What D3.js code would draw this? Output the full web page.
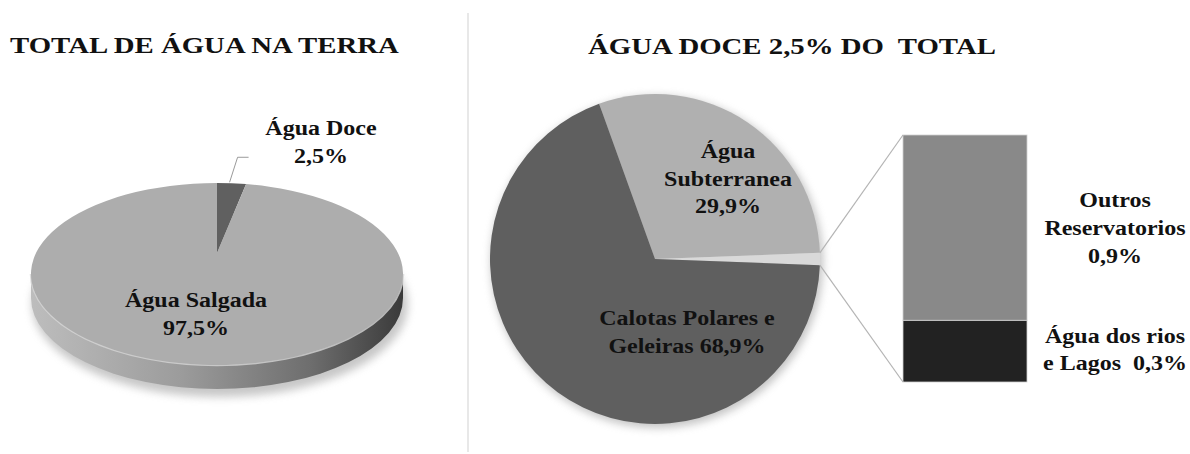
<!DOCTYPE html>
<html>
<head>
<meta charset="utf-8">
<script src="https://cdn.jsdelivr.net/npm/d3@7"></script>
<style>
body{margin:0;background:#fff;}
</style>
</head>
<body>
<div id="svg-container"></div>
<script>
// dados
var totalCats = ["Água Doce", "Água Salgada"];
var totalVals = [2.5, 97.5];
var doceCats = ["Água Subterranea", "Outros", "Calotas Polares e Geleiras"];
var barCats = ["Água dos rios e Lagos", "Outros Reservatorios"];
var barVals = [0.3, 0.9];
var doceVals = [29.9, d3.sum(barVals), 68.9];

var FONT = "Liberation Serif, Times New Roman, DejaVu Serif, serif";

var svg = d3.select("#svg-container").append("svg").attr("width", 1190).attr("height", 454);
var defs = svg.append("defs");
defs.append("filter").attr("id", "blur").attr("x", "-20%").attr("y", "-20%").attr("width", "140%").attr("height", "140%")
  .append("feGaussianBlur").attr("stdDeviation", 4);
var grad = defs.append("linearGradient").attr("id", "side").attr("x1", "0").attr("x2", "1").attr("y1", "0").attr("y2", "0");
grad.append("stop").attr("offset", "0%").attr("stop-color", "#bdbdbd");
grad.append("stop").attr("offset", "40%").attr("stop-color", "#9c9c9c");
grad.append("stop").attr("offset", "75%").attr("stop-color", "#6e6e6e");
grad.append("stop").attr("offset", "100%").attr("stop-color", "#3a3a3a");

function txt(x, y, s, size, anchor) {
  return svg.append("text").attr("transform", "translate(" + x + "," + y + ") scale(1.2,1)")
    .attr("text-anchor", anchor).attr("font-family", FONT).attr("font-weight", "bold")
    .attr("font-size", size).attr("fill", "#111").style("white-space", "pre").text(s);
}
// texto esticado na horizontal
function label(x, y, lines, lh) {
  lines.forEach(function(s, i) { txt(x, y + i * lh, s, 20, "middle"); });
}

// separador
svg.append("line").attr("x1", 468).attr("x2", 468).attr("y1", 13).attr("y2", 452)
  .attr("stroke", "#e0e0e0").attr("stroke-width", 1.5);

// titulos
txt(10, 53, "TOTAL DE ÁGUA NA TERRA", 24, "start");
txt(588, 54, "ÁGUA DOCE 2,5% DO  TOTAL", 24, "start");

// ---- pizza 3D ----
var cx = 217, cy = 274, rx = 186, ry = 91, depth = 24, apexY = 253;
function pt(a) { return [cx + rx * Math.sin(a), cy - ry * Math.cos(a)]; }
var pie1 = d3.pie().sort(null)(totalVals);

svg.append("ellipse").attr("cx", cx + 3).attr("cy", cy + depth + 6).attr("rx", rx + 2).attr("ry", ry + 2)
  .attr("fill", "#9a9a9a").attr("opacity", 0.55).attr("filter", "url(#blur)");

// lateral
svg.append("path")
  .attr("d", "M" + (cx - rx) + "," + cy + " A" + rx + "," + ry + " 0 0 0 " + (cx + rx) + "," + cy +
    " L" + (cx + rx) + "," + (cy + depth) + " A" + rx + "," + ry + " 0 0 1 " + (cx - rx) + "," + (cy + depth) + " Z")
  .attr("fill", "url(#side)");
svg.append("path")
  .attr("d", "M" + (cx - rx) + "," + cy + " A" + rx + "," + ry + " 0 0 0 " + (cx + rx) + "," + cy)
  .attr("fill", "none").attr("stroke", "#d6d6d6").attr("stroke-width", 2.5).attr("opacity", 0.8);

var fill1 = ["#606060", "#adadad"];
svg.selectAll(".top").data(pie1).enter().append("path").attr("class", "top")
  .attr("d", function(d) {
    var p0 = pt(d.startAngle), p1 = pt(d.endAngle);
    var big = (d.endAngle - d.startAngle) > Math.PI ? 1 : 0;
    return "M" + cx + "," + apexY + " L" + p0 + " A" + rx + "," + ry + " 0 " + big + " 1 " + p1 + " Z";
  })
  .attr("fill", function(d, i) { return fill1[i]; });

// linha do rotulo agua doce
var lp = pt((pie1[0].startAngle + pie1[0].endAngle) / 2);
svg.append("polyline").attr("points", [[lp[0] - 2, lp[1] - 1], [lp[0] + 6, lp[1] - 26], [lp[0] + 17, lp[1] - 26]].join(" "))
  .attr("fill", "none").attr("stroke", "#9a9a9a").attr("stroke-width", 1);
label(321, 135, [totalCats[0], "2,5%"], 28);
label(196, 307, [totalCats[1], "97,5%"], 28);

// ---- pizza de barra ----
var pcx = 655, pcy = 259, pr = 165;
var start = Math.PI / 2 - (doceVals[0] + doceVals[1] / 2) / d3.sum(doceVals) * 2 * Math.PI;
var pie2 = d3.pie().sort(null).startAngle(start).endAngle(start + 2 * Math.PI)(doceVals);
var arc = d3.arc().innerRadius(0).outerRadius(pr);
var fill2 = ["#b0b0b0", "#d9d9d9", "#5f5f5f"];
var g2 = svg.append("g").attr("transform", "translate(" + pcx + "," + pcy + ")");
g2.append("circle").attr("cx", 2).attr("cy", 3).attr("r", pr + 1).attr("fill", "#888").attr("opacity", 0.5).attr("filter", "url(#blur)");
g2.selectAll(".sl").data(pie2).enter().append("path").attr("class", "sl")
  .attr("d", arc).attr("fill", function(d, i) { return fill2[i]; });

// barra
var y = d3.scaleLinear().domain([0, d3.sum(barVals)]).range([382, 135]);
var bx0 = 903, bx1 = 1027;
var stack = [];
var acc = 0;
barVals.forEach(function(v, i) { stack.push({ y0: acc, y1: acc + v, c: barCats[i] }); acc += v; });
var fill3 = ["#222222", "#898989"];
svg.selectAll(".bar").data(stack).enter().append("rect").attr("class", "bar")
  .attr("x", bx0).attr("width", bx1 - bx0)
  .attr("y", function(d) { return y(d.y1); })
  .attr("height", function(d) { return y(d.y0) - y(d.y1); })
  .attr("fill", function(d, i) { return fill3[i]; })
  .attr("stroke", "#cfcfcf").attr("stroke-width", 0.8);

// conectores
var o = pie2[1];
function ppt(a) { return [pcx + pr * Math.sin(a), pcy - pr * Math.cos(a)]; }
var c0 = ppt(o.startAngle), c1 = ppt(o.endAngle);
svg.append("line").attr("x1", c0[0]).attr("y1", c0[1]).attr("x2", bx0).attr("y2", y(d3.sum(barVals)))
  .attr("stroke", "#b4b4b4").attr("stroke-width", 1.2);
svg.append("line").attr("x1", c1[0]).attr("y1", c1[1]).attr("x2", bx0).attr("y2", y(0))
  .attr("stroke", "#b4b4b4").attr("stroke-width", 1.2);

label(728, 158, ["Água", "Subterranea", "29,9%"], 27.5);
label(687, 325, ["Calotas Polares e", "Geleiras 68,9%"], 28);
label(1115, 207, ["Outros", "Reservatorios", "0,9%"], 28);
label(1115, 343, ["Água dos rios", "e Lagos  0,3%"], 27);
</script>
</body>
</html>
